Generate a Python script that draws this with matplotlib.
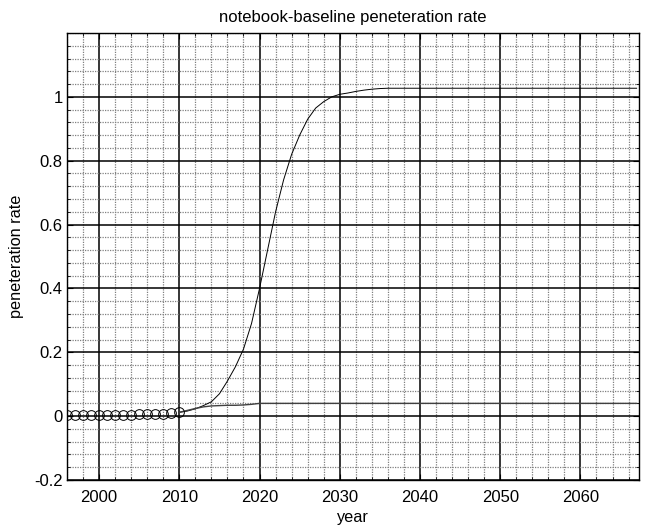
import numpy as np
import matplotlib.pyplot as plt
from matplotlib.ticker import MultipleLocator

plt.rcParams['font.family'] = ['Liberation Sans', 'DejaVu Sans']

# historical observations (circles)
hist_years = list(range(1996, 2011))
hist_rate  = [0.003, 0.003, 0.003, 0.003, 0.003, 0.003, 0.003, 0.003, 0.003,
              0.007, 0.007, 0.008, 0.008, 0.009, 0.012]

# projected years
proj_years = list(range(2010, 2068))

# S-curve projection
s_curve = [0.012, 0.016, 0.023, 0.033, 0.045, 0.070, 0.110, 0.155, 0.210, 0.290,
           0.400, 0.520, 0.640, 0.740, 0.820, 0.880, 0.930, 0.965, 0.985, 1.000,
           1.008, 1.012, 1.017, 1.021, 1.024, 1.026] + [1.027] * 32

# low flat projection
flat_curve = [0.012, 0.018, 0.024, 0.029, 0.032, 0.033, 0.034, 0.034, 0.035, 0.037] + [0.040] * 48

fig = plt.figure(figsize=(6.49, 5.29), dpi=100)
ax = fig.add_axes([67/649, 49/529, 572/649, 447/529])

ax.plot(proj_years, s_curve, color='black', linewidth=0.7)
ax.plot(proj_years, flat_curve, color='#404040', linewidth=1.0)
ax.plot(hist_years, hist_rate, 'o', markerfacecolor='none', markeredgecolor='black',
        markersize=7, markeredgewidth=0.7)

ax.set_xlim(1996, 2067.3)
ax.set_ylim(-0.2, 1.2)
ax.set_xticks([2000, 2010, 2020, 2030, 2040, 2050, 2060])
ax.set_yticks([-0.2, 0, 0.2, 0.4, 0.6, 0.8, 1.0])
ax.set_yticklabels(['-0.2', '0', '0.2', '0.4', '0.6', '0.8', '1'])
ax.xaxis.set_minor_locator(MultipleLocator(2))
ax.yaxis.set_minor_locator(MultipleLocator(0.04))

ax.grid(True, which='minor', color='#808080', linewidth=0.9, linestyle=(0, (1, 1)))
ax.grid(True, which='major', color='black', linewidth=1.1)
ax.set_axisbelow(True)

ax.tick_params(which='both', direction='in', top=True, right=True, labelsize=12)
ax.tick_params(which='major', length=4)
ax.tick_params(which='minor', length=2)
ax.tick_params(axis='x', pad=7)
ax.tick_params(axis='y', pad=3)
for s in ax.spines.values():
    s.set_linewidth(1.0)

ax.set_title("notebook-baseline peneteration rate", fontsize=12, pad=8)
ax.set_xlabel("year", fontsize=11.7, labelpad=4)
ax.set_ylabel("peneteration rate", fontsize=11.7, labelpad=7)

fig.savefig("out.png", dpi=100)
